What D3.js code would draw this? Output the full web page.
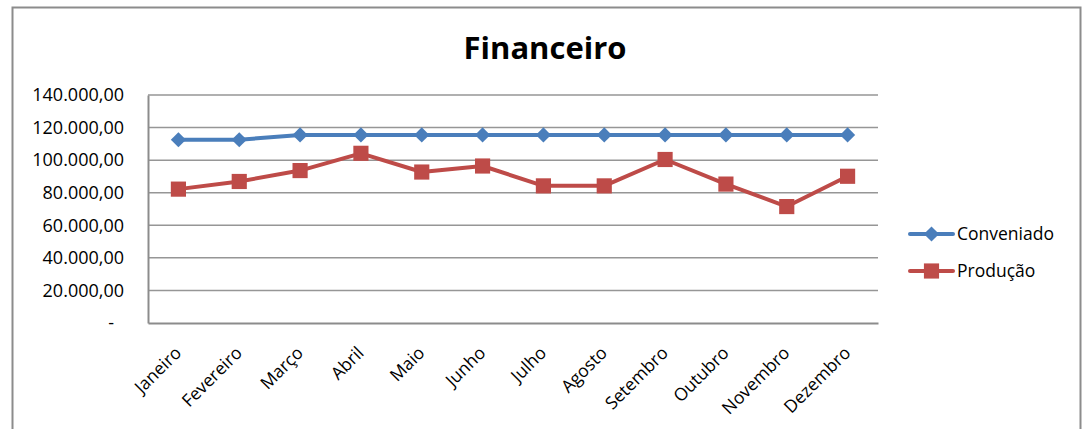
<!DOCTYPE html>
<html>
<head>
<meta charset="utf-8">
<script src="https://cdn.jsdelivr.net/npm/d3@7.9.0/dist/d3.min.js"></script>
<style>
  body { margin: 0; background: #fff; }
  svg { display: block; font-family: "Open Sans", "Noto Sans", sans-serif; }
</style>
</head>
<body>
<svg id="chart" width="1086" height="429"></svg>
<script>
// chart data
const months = ['Janeiro', 'Fevereiro', 'Março', 'Abril', 'Maio', 'Junho',
  'Julho', 'Agosto', 'Setembro', 'Outubro', 'Novembro', 'Dezembro'];
const conveniado = [112500, 112500, 115500, 115500, 115500, 115500,
  115500, 115500, 115500, 115500, 115500, 115500];
const producao = [82200, 86900, 93600, 104200, 92700, 96400,
  84200, 84200, 100400, 85300, 71500, 90100];
const yTicks = [0, 20000, 40000, 60000, 80000, 100000, 120000, 140000];

const svg = d3.select('#chart');

// outer frame (bottom edge is cut off in the picture)
svg.append('path')
  .attr('d', 'M12.5,440 V7.5 H1080.5 V440')
  .attr('fill', 'none')
  .attr('stroke', '#8c8c8c')
  .attr('stroke-width', 2);

const plotL = 148, plotR = 878, plotT = 95, plotB = 323;

let x = d3.scaleBand().domain(months).range([plotL, plotR]);
let y = d3.scaleLinear().domain([0, 140000]).range([plotB, plotT]);

// title
svg.append('text')
  .attr('x', 545).attr('y', 59)
  .attr('text-anchor', 'middle')
  .attr('font-size', 31).attr('font-weight', 'bold')
  .text('Financeiro');

// gridlines
svg.append('g')
  .selectAll('line')
  .data(yTicks.filter(d => d > 0))
  .join('line')
  .attr('x1', plotL).attr('x2', plotR)
  .attr('y1', d => y(d)).attr('y2', d => y(d))
  .attr('stroke', '#969696').attr('stroke-width', 1.5);

// axes
const fmt = d => d === 0 ? '-' : d3.format(',.2f')(d).replace(/,/g, 'X').replace('.', ',').replace(/X/g, '.');

let yAxis = d3.axisLeft(y).tickValues(yTicks).tickSize(0).tickPadding(24).tickFormat(fmt);
let yg = svg.append('g').attr('transform', `translate(${plotL},0)`).call(yAxis);
yg.select('.domain').attr('stroke', '#8c8c8c').attr('stroke-width', 2);
yg.selectAll('text').attr('font-size', 18).attr('fill', '#000')
  .attr('font-family', '"Open Sans", sans-serif');
yg.selectAll('.tick').filter(d => d === 0).select('text').attr('dx', -10);

let xAxis = d3.axisBottom(x).tickSize(0).tickPadding(0);
let xg = svg.append('g').attr('transform', `translate(0,${plotB})`).call(xAxis);
xg.select('.domain').attr('stroke', '#8c8c8c').attr('stroke-width', 2);
xg.selectAll('text')
  .attr('font-size', 17.5).attr('fill', '#000')
  .attr('font-family', '"Open Sans", sans-serif')
  .attr('text-anchor', 'end')
  .attr('dy', null).attr('y', null)
  .attr('transform', 'translate(4,31) rotate(-45)');

// lines
const cx = d => x(d) + x.bandwidth() / 2;
const series = [
  { name: 'Conveniado', values: conveniado, color: '#4a7ebb', rot: 45, size: 115 },
  { name: 'Produção', values: producao, color: '#be4b48', rot: 0, size: 230 }
];

series.forEach(s => {
  let line = d3.line().x((d, i) => cx(months[i])).y(d => y(d));
  svg.append('path')
    .datum(s.values)
    .attr('d', line)
    .attr('fill', 'none')
    .attr('stroke', s.color)
    .attr('stroke-width', 4)
    .attr('stroke-linejoin', 'round');

  let sym = d3.symbol().type(d3.symbolSquare).size(s.size);
  svg.append('g')
    .selectAll('path')
    .data(s.values)
    .join('path')
    .attr('d', sym)
    .attr('transform', (d, i) => `translate(${cx(months[i])},${y(d)}) rotate(${s.rot})`)
    .attr('fill', s.color);
});

// legend
series.forEach((s, i) => {
  let ly = 234 + i * 37;
  let g = svg.append('g');
  g.append('line')
    .attr('x1', 910).attr('x2', 953)
    .attr('y1', ly).attr('y2', ly)
    .attr('stroke', s.color).attr('stroke-width', 4)
    .attr('stroke-linecap', 'round');
  g.append('path')
    .attr('d', d3.symbol().type(d3.symbolSquare).size(s.size)())
    .attr('transform', `translate(931.5,${ly}) rotate(${s.rot})`)
    .attr('fill', s.color);
  g.append('text')
    .attr('x', 957).attr('y', ly + 6)
    .attr('font-size', 17.5)
    .text(s.name);
});
</script>
</body>
</html>
